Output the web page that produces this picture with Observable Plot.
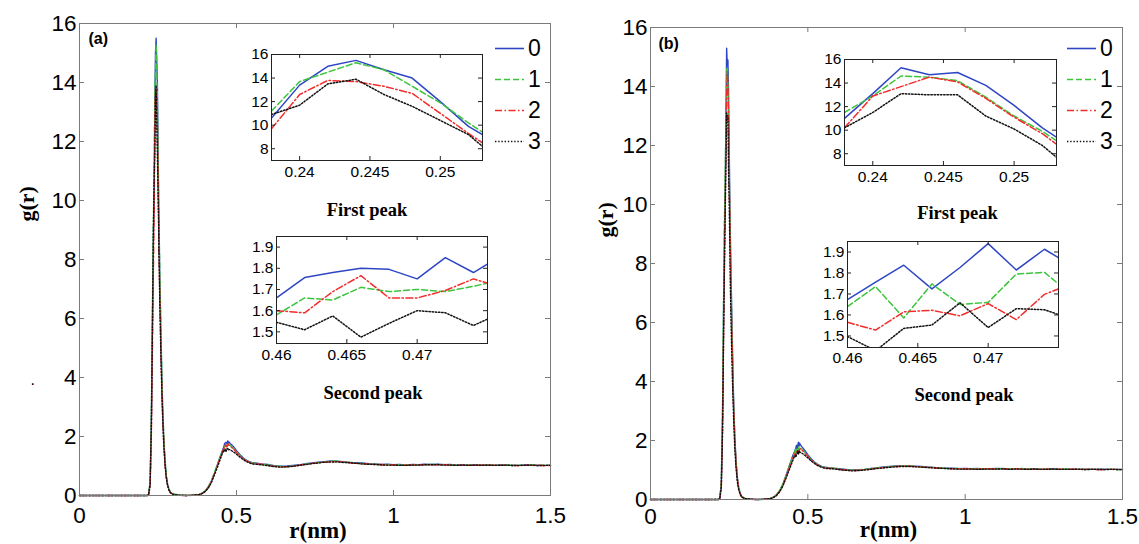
<!DOCTYPE html>
<html><head><meta charset="utf-8">
<script src="https://cdn.jsdelivr.net/npm/d3@7"></script>
<script src="https://cdn.jsdelivr.net/npm/@observablehq/plot@0.6"></script>
<style>
body{margin:0;background:#fff}
#fig{position:relative;width:1139px;height:544px;overflow:hidden;font-family:"Liberation Sans",Arial,sans-serif;color:#000}
#fig > *{position:absolute}
.lg-row{height:31px;display:flex;align-items:center}
.lg-row span{font-size:23px;line-height:31px;margin-left:4px}
</style></head>
<body><div id="fig"></div>
<script>
// ---------- series ----------
const seriesNames = ["0","1","2","3"];
const seriesColors = ["#2f46c4","#3cc43c","#f22b2b","#111111"];
const seriesDash = [undefined,"6,3","7,2.5,1.5,2.5","1.4,1.8"];

// ---------- ticks ----------
const xTicksMain = [0,0.5,1,1.5];
const yTicksMain = [0,2,4,6,8,10,12,14,16];
const xTicksPeak1 = [0.24,0.245,0.25];
const yTicksPeak1 = [8,10,12,14,16];
const xTicksPeak2 = [0.46,0.465,0.47];
const yTicksPeak2 = [1.5,1.6,1.7,1.8,1.9];
const panelTags = ["(a)","(b)"];
const insetTitles = ["First peak","Second peak"];
const axisTitles = ["r(nm)","g(r)"];

// ---------- r grids ----------
const rPre = [0,0.1,0.2,0.215,0.22,0.225,0.229,0.232,0.235];
const peak1R = [0.238,0.240,0.242,0.244,0.246,0.248,0.250,0.252,0.253];
const rMid = [0.256,0.26,0.264,0.268,0.272,0.276,0.28,0.285,0.29,0.30,0.32,0.34,0.36,0.38,0.39,0.40,0.41,0.42,0.43,0.44,0.45,0.455];
const peak2R = [0.46,0.462,0.464,0.466,0.468,0.47,0.472,0.474,0.475];
const rPost = [0.48,0.49,0.50,0.51,0.52,0.53,0.54,0.55];
const rTail = [0.56,0.58,0.60,0.62,0.64,0.66,0.68,0.70,0.72,0.74,0.76,0.78,0.80,0.82,0.84,0.86,0.88,0.90,0.92,0.94,0.96,0.98,1.00,1.02,1.04,1.06,1.08,1.10,1.12,1.14,1.16,1.18,1.20,1.22,1.24,1.26,1.28,1.30,1.32,1.34,1.36,1.38,1.40,1.42,1.44,1.46,1.48,1.50];

// ---------- panel (a) values, one row per series 0..3 ----------
const aPre = [
 [0,0,0,0,0.02,0.4,2.6,5.6,8.4],
 [0,0,0,0,0.03,0.5,2.9,6.1,9.1],
 [0,0,0,0,0.02,0.3,2.1,4.7,7.4],
 [0,0,0,0,0.02,0.4,2.5,5.4,8.8]];
const aPeak1 = [
 [10.6,13.4,15.0,15.5,14.7,14.0,12.0,9.9,9.2],
 [11.2,13.7,14.5,15.3,14.7,13.3,11.9,10.2,9.4],
 [9.7,12.6,13.8,13.7,13.3,12.7,11.0,9.3,8.5],
 [10.9,11.7,13.5,13.9,12.6,11.6,10.4,9.2,8.2]];
const aMid = [
 [7.2,5.0,3.2,2.0,1.2,0.7,0.4,0.2,0.1,0.04,0.01,0,0.01,0.03,0.07,0.15,0.28,0.48,0.76,1.07,1.38,1.52],
 [7.5,5.3,3.4,2.1,1.3,0.75,0.42,0.22,0.11,0.05,0.01,0.01,0.01,0.04,0.08,0.16,0.30,0.50,0.78,1.08,1.36,1.48],
 [6.6,4.6,3.0,1.9,1.1,0.65,0.38,0.19,0.09,0.03,0.01,0,0.01,0.03,0.07,0.14,0.27,0.47,0.74,1.04,1.34,1.47],
 [6.4,4.4,2.9,1.8,1.1,0.62,0.36,0.18,0.09,0.03,0.01,0,0.01,0.03,0.06,0.13,0.25,0.44,0.70,0.98,1.28,1.42]];
const aPeak2 = [
 [1.66,1.756,1.78,1.80,1.795,1.75,1.85,1.78,1.82],
 [1.58,1.66,1.65,1.71,1.69,1.70,1.69,1.715,1.73],
 [1.60,1.59,1.69,1.765,1.66,1.66,1.695,1.75,1.73],
 [1.545,1.51,1.575,1.475,1.54,1.60,1.59,1.53,1.56]];
const aPost = [
 [1.76,1.66,1.52,1.40,1.29,1.21,1.15,1.11],
 [1.70,1.60,1.48,1.37,1.27,1.19,1.14,1.10],
 [1.68,1.58,1.46,1.35,1.26,1.18,1.13,1.09],
 [1.55,1.48,1.40,1.31,1.23,1.16,1.11,1.07]];
const aTail = [
 [1.10,1.07,1.05,1.01,0.99,1.00,1.02,1.04,1.08,1.10,1.13,1.15,1.17,1.16,1.15,1.12,1.11,1.10,1.08,1.07,1.05,1.06,1.04,1.05,1.03,1.05,1.04,1.06,1.05,1.06,1.04,1.05,1.03,1.04,1.02,1.04,1.03,1.04,1.02,1.04,1.03,1.03,1.02,1.04,1.03,1.03,1.02,1.03],
 [1.09,1.05,1.04,1.00,0.99,0.97,1.01,1.03,1.07,1.08,1.12,1.14,1.16,1.17,1.13,1.13,1.10,1.09,1.06,1.07,1.04,1.05,1.03,1.04,1.04,1.03,1.05,1.04,1.06,1.04,1.05,1.03,1.04,1.02,1.04,1.03,1.02,1.04,1.03,1.03,1.04,1.02,1.03,1.02,1.04,1.02,1.03,1.02],
 [1.07,1.06,1.02,0.99,0.97,0.98,0.99,1.03,1.05,1.09,1.11,1.13,1.14,1.15,1.14,1.11,1.09,1.08,1.07,1.05,1.05,1.03,1.04,1.02,1.03,1.04,1.03,1.05,1.04,1.04,1.05,1.03,1.04,1.02,1.03,1.02,1.04,1.02,1.03,1.02,1.03,1.02,1.01,1.03,1.02,1.03,1.01,1.02],
 [1.06,1.04,1.01,0.98,0.96,0.97,0.99,1.02,1.05,1.08,1.10,1.13,1.13,1.14,1.12,1.11,1.09,1.07,1.06,1.05,1.04,1.03,1.03,1.02,1.02,1.03,1.03,1.04,1.04,1.05,1.03,1.03,1.02,1.03,1.02,1.03,1.02,1.03,1.02,1.02,1.03,1.01,1.02,1.02,1.03,1.01,1.02,1.02]];

// ---------- panel (b) values ----------
const bPre = [
 [0,0,0,0,0.02,0.5,2.9,6.2,8.9],
 [0,0,0,0,0.03,0.6,3.1,6.6,9.5],
 [0,0,0,0,0.02,0.4,2.4,5.3,8.0],
 [0,0,0,0,0.02,0.4,2.3,5.2,7.9]];
const bPeak1 = [
 [11.0,13.1,15.3,14.7,14.9,13.8,12.1,10.2,9.4],
 [11.5,12.9,14.6,14.5,14.2,12.8,11.2,9.9,9.1],
 [10.2,12.9,13.7,14.5,14.1,12.7,11.1,9.7,8.8],
 [10.2,11.5,13.1,13.0,13.0,11.2,10.1,8.7,7.7]];
const bMid = [
 [7.6,5.3,3.4,2.1,1.3,0.75,0.42,0.21,0.1,0.04,0.01,0,0.01,0.03,0.07,0.15,0.29,0.50,0.79,1.10,1.42,1.56],
 [7.3,5.1,3.3,2.0,1.25,0.72,0.4,0.2,0.1,0.04,0.01,0,0.01,0.04,0.08,0.16,0.30,0.51,0.80,1.10,1.40,1.53],
 [7.0,4.9,3.2,2.0,1.2,0.7,0.39,0.2,0.09,0.03,0.01,0,0.01,0.03,0.07,0.14,0.27,0.47,0.75,1.04,1.34,1.46],
 [6.0,4.2,2.8,1.7,1.05,0.6,0.35,0.17,0.08,0.03,0.01,0,0.01,0.03,0.06,0.13,0.25,0.44,0.70,0.98,1.26,1.40]];
const bPeak2 = [
 [1.673,1.756,1.837,1.724,1.826,1.94,1.814,1.913,1.873],
 [1.64,1.735,1.586,1.748,1.65,1.66,1.795,1.803,1.748],
 [1.565,1.528,1.615,1.622,1.596,1.654,1.578,1.698,1.724],
 [1.497,1.43,1.536,1.552,1.658,1.54,1.63,1.625,1.602]];
const bPost = [
 [1.80,1.67,1.52,1.39,1.28,1.20,1.14,1.10],
 [1.72,1.61,1.48,1.36,1.26,1.19,1.13,1.09],
 [1.68,1.58,1.46,1.34,1.25,1.17,1.12,1.08],
 [1.58,1.50,1.41,1.31,1.23,1.16,1.11,1.07]];
const bTail = [
 [1.09,1.06,1.04,1.02,1.00,1.01,1.02,1.05,1.07,1.10,1.12,1.14,1.15,1.14,1.13,1.12,1.10,1.09,1.07,1.06,1.06,1.04,1.05,1.04,1.05,1.03,1.04,1.05,1.04,1.03,1.04,1.04,1.03,1.04,1.02,1.03,1.04,1.02,1.03,1.03,1.02,1.03,1.02,1.03,1.03,1.02,1.02,1.02],
 [1.08,1.07,1.03,1.01,0.99,1.00,1.03,1.04,1.08,1.09,1.11,1.13,1.14,1.15,1.12,1.11,1.10,1.08,1.07,1.05,1.05,1.05,1.03,1.05,1.04,1.04,1.03,1.04,1.05,1.04,1.03,1.05,1.04,1.03,1.03,1.04,1.02,1.03,1.04,1.02,1.03,1.02,1.03,1.02,1.02,1.03,1.01,1.02],
 [1.06,1.05,1.02,1.00,0.98,0.99,1.01,1.03,1.06,1.08,1.10,1.12,1.13,1.13,1.12,1.10,1.09,1.08,1.06,1.05,1.04,1.04,1.04,1.03,1.03,1.04,1.04,1.03,1.04,1.03,1.04,1.03,1.03,1.02,1.03,1.03,1.02,1.03,1.02,1.03,1.02,1.02,1.03,1.01,1.02,1.02,1.02,1.01],
 [1.05,1.04,1.01,0.99,0.97,0.98,1.00,1.02,1.05,1.07,1.09,1.11,1.12,1.12,1.11,1.10,1.08,1.07,1.06,1.05,1.04,1.03,1.03,1.03,1.02,1.03,1.03,1.03,1.04,1.02,1.03,1.03,1.02,1.03,1.02,1.02,1.03,1.02,1.02,1.02,1.03,1.01,1.02,1.02,1.01,1.02,1.02,1.01]];

// ---------- helpers ----------
const fig = document.getElementById("fig");
const MAIN_FRAME = "#7a7a7a";
const SERIF = "'Liberation Serif','Times New Roman',serif";
const SANS = "'Liberation Sans',Arial,sans-serif";

function rowsOf(segments) {
  const rows = [];
  seriesNames.forEach((name, s) => {
    for (const [rs, vals] of segments) {
      rs.forEach((r, i) => rows.push({r, g: vals[s][i], s}));
    }
  });
  return rows;
}
function seriesLines(rows, width, clip) {
  return seriesNames.map((n, s) => Plot.line(rows.filter(d => d.s === s), {
    x: "r", y: "g", stroke: seriesColors[s], strokeWidth: width,
    strokeDasharray: seriesDash[s], clip
  }));
}
function frameTicks(xt, yt, pw, ph, len, stroke) {
  return [
    Plot.tickX(xt, {x: d => d, insetTop: ph - len, stroke}),
    Plot.tickX(xt, {x: d => d, insetBottom: ph - len, stroke}),
    Plot.tickY(yt, {y: d => d, insetRight: pw - len, stroke}),
    Plot.tickY(yt, {y: d => d, insetLeft: pw - len, stroke})
  ];
}
function place(el, left, top) {
  el.style.left = left + "px"; el.style.top = top + "px";
  fig.appendChild(el);
}

function mainChart(cfg) {
  const {rows, left, width, height, m, tag, xPad, gPos, rPos, tagPos, extra = []} = cfg;
  const pw = width - m.l - m.r, ph = height - m.t - m.b;
  const p = Plot.plot({
    width, height,
    marginTop: m.t, marginRight: m.r, marginBottom: m.b, marginLeft: m.l,
    style: {background: "transparent", overflow: "visible", fontFamily: SANS},
    x: {domain: [0, 1.5], label: null},
    y: {domain: [0, 16], label: null},
    marks: [
      ...seriesLines(rows, 1.4, false),
      Plot.frame({stroke: MAIN_FRAME}),
      ...frameTicks(xTicksMain, yTicksMain, pw, ph, 5, MAIN_FRAME),
      Plot.axisX(xTicksMain, {tickSize: 0, tickPadding: xPad, tickFormat: d => String(d), fontSize: 22.5, label: null}),
      Plot.axisY(yTicksMain, {tickSize: 0, tickPadding: 3, tickFormat: d => String(d), fontSize: 22.5, label: null}),
      Plot.text([tag], {text: d => d, frameAnchor: "top-left", textAnchor: "start", lineAnchor: "top", dx: tagPos[0], dy: tagPos[1], fontSize: 16, fontWeight: "bold", fontFamily: SANS}),
      Plot.text([axisTitles[0]], {text: d => d, frameAnchor: "bottom", lineAnchor: "middle", dx: rPos[0], dy: rPos[1], fontSize: 23, fontWeight: "bold", fontFamily: SERIF}),
      Plot.text([axisTitles[1]], {text: d => d, frameAnchor: "left", lineAnchor: "middle", rotate: -90, dx: gPos[0], dy: gPos[1], fontSize: 22, fontWeight: "bold", fontFamily: SERIF}),
      ...extra
    ]
  });
  place(p, left, 0);
}

function insetChart(cfg) {
  const {L, R, T, B, xDomain, yDomain, xTicks, yTicks, rs, vals, title, tdx, tdy, xPad} = cfg;
  const m = {l: 50, t: 10, r: 10, b: 62};
  const width = R - L + m.l + m.r, height = B - T + m.t + m.b;
  const pw = R - L, ph = B - T;
  const rows = rowsOf([[rs, vals]]);
  const p = Plot.plot({
    width, height,
    marginTop: m.t, marginRight: m.r, marginBottom: m.b, marginLeft: m.l,
    style: {background: "transparent", overflow: "visible", fontFamily: SANS},
    x: {domain: xDomain, label: null},
    y: {domain: yDomain, label: null},
    marks: [
      Plot.frame({fill: "white"}),
      ...seriesLines(rows, 1.5, true),
      Plot.frame({stroke: "#222"}),
      ...frameTicks(xTicks, yTicks, pw, ph, 4, "#222"),
      Plot.axisX(xTicks, {tickSize: 0, tickPadding: xPad, tickFormat: d => String(d), fontSize: 15.5, label: null}),
      Plot.axisY(yTicks, {tickSize: 0, tickPadding: 3, tickFormat: d => String(d), fontSize: 15.5, label: null}),
      Plot.text([title], {text: d => d, frameAnchor: "bottom", lineAnchor: "middle", dx: tdx, dy: tdy, fontSize: 18.5, fontWeight: "bold", fontFamily: SERIF})
    ]
  });
  place(p, L - m.l, T - m.t);
}

function legend(left, top) {
  const div = document.createElement("div");
  seriesNames.forEach((n, s) => {
    const row = document.createElement("div");
    row.className = "lg-row";
    const svg = d3.create("svg").attr("width", 29).attr("height", 31);
    svg.append("line").attr("x1", 0).attr("x2", 29).attr("y1", 15.5).attr("y2", 15.5)
      .attr("stroke", seriesColors[s]).attr("stroke-width", 1.6)
      .attr("stroke-dasharray", seriesDash[s] || null);
    row.appendChild(svg.node());
    const sp = document.createElement("span");
    sp.textContent = n;
    row.appendChild(sp);
    div.appendChild(row);
  });
  place(div, left, top);
}

// ---------- panel (a) ----------
const rowsA = rowsOf([[rPre,aPre],[peak1R,aPeak1],[rMid,aMid],[peak2R,aPeak2],[rPost,aPost],[rTail,aTail]]);
mainChart({rows: rowsA, left: 0, width: 570, height: 544, m: {t: 23, r: 20, b: 49, l: 79},
  tag: panelTags[0], xPad: 12, gPos: [-53, -38], rPos: [3, 35], tagPos: [9, 9],
  extra: [Plot.text(["."], {text: d => d, frameAnchor: "left", lineAnchor: "middle", dx: -49, dy: 120, fontSize: 16})]});
insetChart({L: 271, R: 482, T: 54, B: 160, xDomain: [0.238, 0.253], yDomain: [7, 16],
  xTicks: xTicksPeak1, yTicks: yTicksPeak1, rs: peak1R, vals: aPeak1, title: insetTitles[0], tdx: -10, tdy: 50, xPad: 5});
insetChart({L: 276, R: 487, T: 236, B: 343, xDomain: [0.46, 0.475], yDomain: [1.445, 1.95],
  xTicks: xTicksPeak2, yTicks: yTicksPeak2, rs: peak2R, vals: aPeak2, title: insetTitles[1], tdx: -9, tdy: 50, xPad: 5});
legend(495, 33);

// ---------- panel (b) ----------
const rowsB = rowsOf([[rPre,bPre],[peak1R,bPeak1],[rMid,bMid],[peak2R,bPeak2],[rPost,bPost],[rTail,bTail]]);
mainChart({rows: rowsB, left: 570, width: 569, height: 544, m: {t: 27, r: 17, b: 45, l: 80},
  tag: panelTags[1], xPad: 9, gPos: [-45, -26], rPos: [2, 30], tagPos: [8, 10]});
insetChart({L: 844, R: 1056, T: 59, B: 165, xDomain: [0.238, 0.253], yDomain: [7, 16],
  xTicks: xTicksPeak1, yTicks: yTicksPeak1, rs: peak1R, vals: bPeak1, title: insetTitles[0], tdx: 7, tdy: 48, xPad: 5});
insetChart({L: 847, R: 1058, T: 241, B: 347, xDomain: [0.46, 0.475], yDomain: [1.445, 1.95],
  xTicks: xTicksPeak2, yTicks: yTicksPeak2, rs: peak2R, vals: bPeak2, title: insetTitles[1], tdx: 11, tdy: 48, xPad: 4});
legend(1067, 33);
</script></body></html>
